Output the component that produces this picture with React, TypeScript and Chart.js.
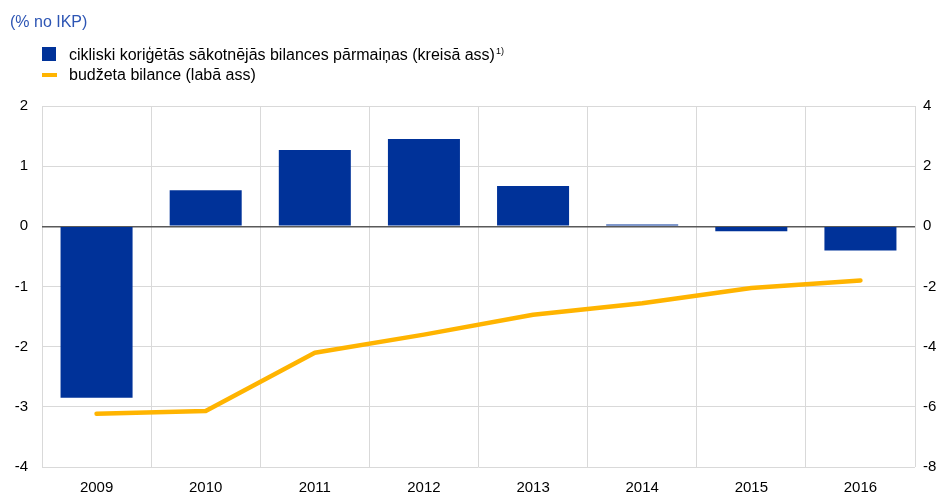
import React, { useEffect, useRef } from "react";
import { Chart, registerables } from "chart.js";

Chart.register(...registerables);

const categories = ["2009", "2010", "2011", "2012", "2013", "2014", "2015", "2016"];
const primaryBalanceChange = [-2.85, 0.6, 1.27, 1.45, 0.67, 0.03, -0.08, -0.4];
const budgetBalance = [-6.23, -6.14, -4.2, -3.6, -2.94, -2.56, -2.05, -1.8];
const leftTicks = { min: -4, max: 2, step: 1 };
const rightTicks = { min: -8, max: 4, step: 2 };

const titleText = "(% no IKP)";
const barLabel = "cikliski koriģētās sākotnējās bilances pārmaiņas (kreisā ass)";
const lineLabel = "budžeta bilance (labā ass)";

const BLUE = "#003299";
const YELLOW = "#FFB400";
const FONT = "Arial, 'Liberation Sans', sans-serif";

export default function App() {
  const ref = useRef<HTMLCanvasElement>(null);

  useEffect(() => {
    if (!ref.current) return;
    const chart = new Chart(ref.current, {
      type: "bar",
      data: {
        labels: categories,
        datasets: [
          {
            type: "line",
            label: lineLabel,
            data: budgetBalance,
            yAxisID: "y1",
            borderColor: YELLOW,
            backgroundColor: YELLOW,
            borderWidth: 4.5,
            pointRadius: 0,
            borderCapStyle: "round",
            borderJoinStyle: "round",
            tension: 0,
            order: 0,
          } as any,
          {
            type: "bar",
            label: barLabel,
            data: primaryBalanceChange,
            yAxisID: "y",
            backgroundColor: BLUE,
            borderWidth: 0,
            barPercentage: 0.66,
            categoryPercentage: 1,
            order: 1,
          },
        ],
      },
      options: {
        responsive: false,
        animation: false,
        layout: { padding: { top: 106, left: 0, right: 0, bottom: 0 } },
        plugins: { legend: { display: false }, tooltip: { enabled: false }, title: { display: false } },
        scales: {
          x: {
            grid: { color: "#d9d9d9", lineWidth: 1, offset: true, drawTicks: false },
            border: { display: false },
            ticks: { color: "#000", font: { family: FONT, size: 15 }, padding: 12, maxRotation: 0 },
            afterFit: (s: any) => { s.height = 26; },
          },
          y: {
            position: "left",
            min: leftTicks.min,
            max: leftTicks.max,
            grid: {
              color: (c: any) => (c.tick && c.tick.value === 0 ? "#595959" : "#d9d9d9"),
              lineWidth: (c: any) => (c.tick && c.tick.value === 0 ? 1.5 : 1),
              drawTicks: false,
            },
            border: { display: false },
            ticks: { stepSize: leftTicks.step, color: "#000", font: { family: FONT, size: 15 }, padding: 14 },
            afterFit: (s: any) => { s.width = 42; },
          },
          y1: {
            position: "right",
            min: rightTicks.min,
            max: rightTicks.max,
            grid: { drawOnChartArea: false, drawTicks: false },
            border: { display: false },
            ticks: { stepSize: rightTicks.step, color: "#000", font: { family: FONT, size: 15 }, padding: 8 },
            afterFit: (s: any) => { s.width = 30; },
          },
        },
      },
    });
    return () => chart.destroy();
  }, []);

  return (
    <div style={{ position: "fixed", left: 0, top: 0, width: 945, height: 493, background: "#fff", fontFamily: FONT }}>
      <canvas ref={ref} width={945} height={493} style={{ position: "absolute", left: 0, top: 0 }} />
      <div style={{ position: "absolute", left: 10, top: 12, fontSize: 16, lineHeight: "20px", color: "#2d55b4", whiteSpace: "nowrap" }}>
        {titleText}
      </div>
      <div style={{ position: "absolute", left: 42, top: 47, width: 14, height: 14, background: BLUE }} />
      <div style={{ position: "absolute", left: 69, top: 45, fontSize: 16, lineHeight: "20px", color: "#000", whiteSpace: "nowrap" }}>
        {barLabel}
        <sup style={{ fontSize: 9, verticalAlign: "6px", lineHeight: 0, marginLeft: 1 }}>1)</sup>
      </div>
      <div style={{ position: "absolute", left: 42, top: 73, width: 15, height: 4, background: YELLOW }} />
      <div style={{ position: "absolute", left: 69, top: 65, fontSize: 16, lineHeight: "20px", color: "#000", whiteSpace: "nowrap" }}>
        {lineLabel}
      </div>
    </div>
  );
}
